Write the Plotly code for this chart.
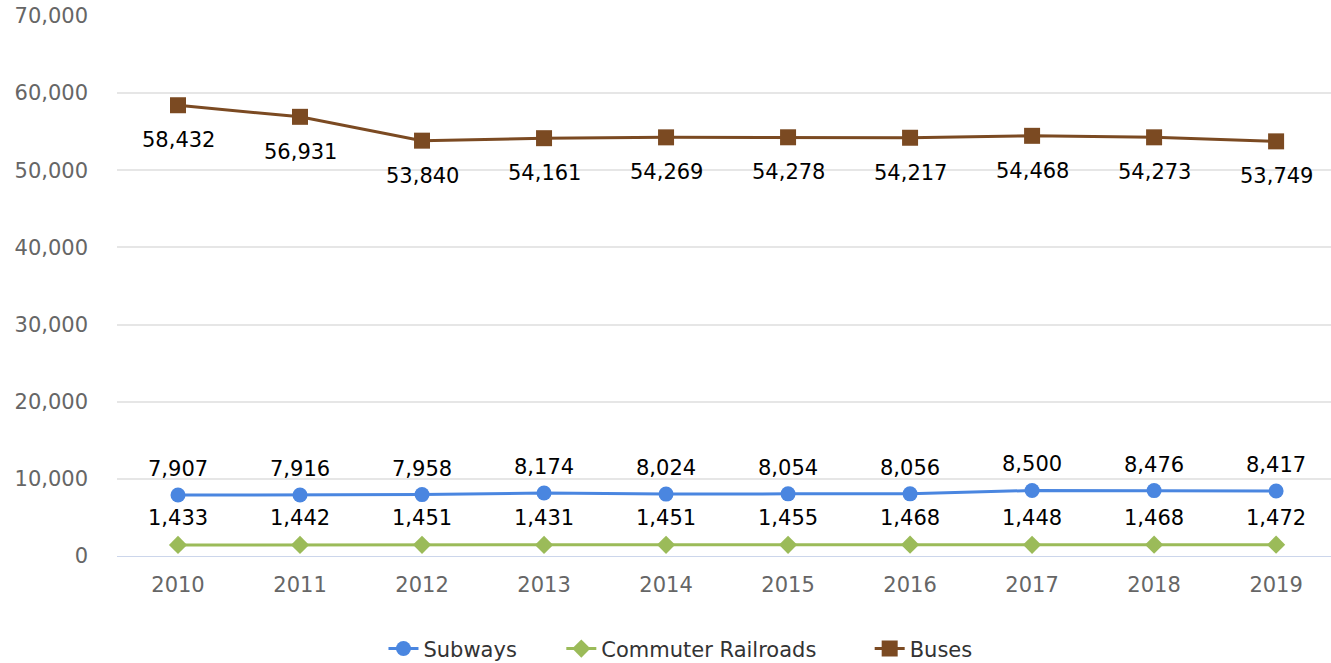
import plotly.graph_objects as go

years = ["2010", "2011", "2012", "2013", "2014", "2015", "2016", "2017", "2018", "2019"]
subways = [7907, 7916, 7958, 8174, 8024, 8054, 8056, 8500, 8476, 8417]
commuter_railroads = [1433, 1442, 1451, 1431, 1451, 1455, 1468, 1448, 1468, 1472]
buses = [58432, 56931, 53840, 54161, 54269, 54278, 54217, 54468, 54273, 53749]
y_ticks = [0, 10000, 20000, 30000, 40000, 50000, 60000, 70000]

FONT = "DejaVu Sans"
# name, values, colour, marker, marker size, label offset (px, up is positive), legend id, legend x
series = [
    ("Subways", subways, "#4a86e0", "circle", 15, 26, "legend", 0.2195),
    ("Commuter Railroads", commuter_railroads, "#9bbb59", "diamond", 14, 27, "legend2", 0.366),
    ("Buses", buses, "#7b4a22", "square", 16, -35, "legend3", 0.62),
]

fig = go.Figure()
annotations = []
legends = {}
for name, vals, color, symbol, msize, shift, leg, legx in series:
    fig.add_trace(go.Scatter(
        x=years, y=vals, name=name, mode="lines+markers",
        line=dict(color=color, width=3),
        marker=dict(symbol=symbol, size=msize, color=color),
        legend=leg,
    ))
    for i, v in enumerate(vals):
        annotations.append(dict(
            x=i, y=v, xref="x", yref="y", text=f"{v:,}", showarrow=False, yshift=shift,
            font=dict(family=FONT, size=21, color="#000000"),
        ))
    legends[leg] = dict(
        orientation="h", x=legx, xanchor="left", y=-0.172, yanchor="middle",
        font=dict(family=FONT, size=21, color="#333333"),
        bgcolor="rgba(0,0,0,0)",
    )

fig.update_layout(
    width=1331, height=663,
    margin=dict(l=117, r=0, t=16, b=107, autoexpand=False),
    paper_bgcolor="white", plot_bgcolor="white",
    annotations=annotations,
    showlegend=True,
    **legends,
    xaxis=dict(
        type="category", range=[-0.5, 9.45],
        showgrid=False, showline=True, linecolor="#ccd6eb", linewidth=1,
        ticks="", tickfont=dict(family=FONT, size=21, color="#666666"),
        ticklabelstandoff=10, fixedrange=True,
    ),
    yaxis=dict(
        range=[0, 70000], tickvals=y_ticks,
        ticktext=[f"{t:,}" for t in y_ticks],
        showgrid=True, gridcolor="#e6e6e6", gridwidth=2,
        zeroline=False, showline=False,
        tickfont=dict(family=FONT, size=21, color="#666666"),
        ticklabelstandoff=28, fixedrange=True,
    ),
)

fig.write_html("out.html")
